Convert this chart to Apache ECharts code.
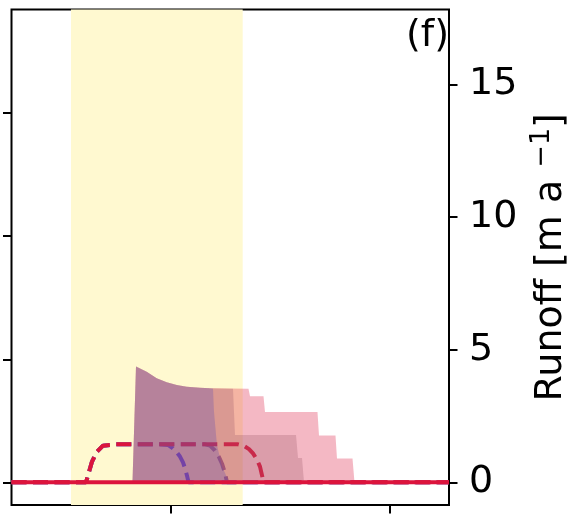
<!DOCTYPE html>
<html>
<head>
<meta charset="utf-8">
<script src="https://cdn.jsdelivr.net/npm/echarts@6/dist/echarts.min.js"></script>
<style>
html,body{margin:0;padding:0;background:#fff;}
#chart{width:573px;height:514px;}
</style>
</head>
<body>
<div id="chart"></div>
<script>
// ---- Axis settings (data units) ----
const xRange = [27.17, 226.94];
const xTicks = [100, 200];
const runoffRange = [-0.856, 17.82];
const runoffTicks = [0, 5, 10, 15];
const leftRange = [-0.181, 3.837];
const leftTicks = [0, 1, 2, 3];

// ---- Shaded period ----
const bandX = [54.34, 132.74];

// ---- Dashed curves ----
const dashCrimsonX = [27.17, 61.19, 63.93, 66.21, 68.95, 74.43, 130.59, 133.33, 135.62, 137.44, 139.27, 140.64, 142.01, 142.47, 226.94];
const dashCrimsonY = [0, 0, 0.78, 1.15, 1.38, 1.43, 1.43, 1.37, 1.25, 1.09, 0.85, 0.59, 0.10, 0, 0];

const dashBlueX = [27.17, 61.19, 63.93, 66.21, 68.95, 74.43, 94.98, 98.63, 100.91, 102.74, 104.11, 105.48, 106.39, 107.31, 107.99, 226.94];
const dashBlueY = [0, 0, 0.78, 1.15, 1.38, 1.43, 1.43, 1.41, 1.28, 1.12, 0.97, 0.75, 0.53, 0.25, 0, 0];

const dashMauveX = [27.17, 61.19, 63.93, 66.21, 68.95, 74.43, 115.53, 117.81, 120.09, 121.92, 123.29, 124.66, 125.57, 226.94];
const dashMauveY = [0, 0, 0.78, 1.15, 1.38, 1.43, 1.43, 1.38, 1.20, 0.95, 0.70, 0.35, 0, 0];

// ---- Filled runoff areas ----
const fillBlueX = [82.42, 84.02, 88.90, 93.47, 98.04, 102.60, 107.17, 113.24, 117.81, 119.18, 119.63, 121.00, 123.29, 126.03, 126.94];
const fillBlueY = [0, 4.36, 4.17, 3.92, 3.77, 3.67, 3.60, 3.56, 3.54, 3.53, 2.66, 1.40, 0.60, 0.10, 0];

const fillMauveX = [82.42, 84.02, 88.90, 93.47, 98.04, 102.60, 107.17, 113.24, 117.81, 128.31, 129.22, 157.08, 157.99, 159.82, 160.73];
const fillMauveY = [0, 4.36, 4.17, 3.92, 3.77, 3.67, 3.60, 3.56, 3.54, 3.53, 1.78, 1.78, 0.92, 0.92, 0];

const fillCrimsonX = [82.42, 84.02, 88.90, 93.47, 98.04, 102.60, 107.17, 113.24, 117.81, 135.39, 136.07, 142.24, 142.92, 166.89, 167.58, 175.11, 175.80, 182.88, 183.79];
const fillCrimsonY = [0, 4.36, 4.17, 3.92, 3.77, 3.67, 3.60, 3.56, 3.54, 3.53, 3.24, 3.24, 2.65, 2.65, 1.76, 1.76, 0.90, 0.90, 0];

// ---- Solid line ----
const solidX = [27.17, 226.94];
const solidY = [0, 0];

const zip = (xs, ys) => xs.map((x, i) => [x, ys[i]]);
const FONT = 'DejaVu Sans';

const chart = echarts.init(document.getElementById('chart'), null, {renderer: 'canvas'});

function dashed(xs, ys, color) {
  return {
    type: 'line', data: zip(xs, ys), yAxisIndex: 0, showSymbol: false, symbol: 'none',
    lineStyle: {color: color, width: 4, type: [15, 6.5]}, z: 2, silent: true, animation: false
  };
}
function filled(xs, ys, color) {
  return {
    type: 'line', data: zip(xs, ys), yAxisIndex: 0, showSymbol: false, symbol: 'none',
    lineStyle: {width: 0, opacity: 0},
    areaStyle: {color: color, opacity: 0.3, origin: 0},
    z: 3, silent: true, animation: false
  };
}

const option = {
  animation: false,
  grid: {left: 11.5, right: 124, top: 9.5, bottom: 9, show: true, borderColor: '#000', borderWidth: 2,
         backgroundColor: 'transparent', containLabel: false, outerBoundsMode: 'none'},
  xAxis: {
    type: 'value', min: xRange[0], max: xRange[1], position: 'bottom',
    axisLine: {show: false, onZero: false},
    axisTick: {show: true, customValues: xTicks, length: 8.5, inside: false, lineStyle: {color: '#000', width: 2}},
    axisLabel: {show: false, customValues: xTicks},
    splitLine: {show: false}
  },
  yAxis: [
    {
      type: 'value', position: 'right', min: runoffRange[0], max: runoffRange[1],
      axisLine: {show: false, onZero: false},
      axisTick: {show: true, customValues: runoffTicks, length: 8.5, lineStyle: {color: '#000', width: 2}},
      axisLabel: {show: true, customValues: runoffTicks, fontSize: 38, color: '#000', fontFamily: FONT, margin: 20},
      splitLine: {show: false},
      name: '{a|Runoff [m a }{s|−1}{a|]}',
      nameLocation: 'middle', nameRotate: 90, nameGap: 75,
      nameTextStyle: {
        fontFamily: FONT, fontSize: 38, color: '#000',
        rich: {
          a: {fontFamily: FONT, fontSize: 38, lineHeight: 46, color: '#000'},
          s: {fontFamily: FONT, fontSize: 27, lineHeight: 27, verticalAlign: 'top', color: '#000'}
        }
      }
    },
    {
      type: 'value', position: 'left', min: leftRange[0], max: leftRange[1],
      axisLine: {show: false, onZero: false},
      axisTick: {show: true, customValues: leftTicks, length: 8.5, lineStyle: {color: '#000', width: 2}},
      axisLabel: {show: false, customValues: leftTicks},
      splitLine: {show: false}
    }
  ],
  graphic: [{
    type: 'text', z: 100,
    style: {text: '(f)', x: 449, y: 36, align: 'right', verticalAlign: 'middle', font: '38px "DejaVu Sans"', fill: '#000'}
  }],
  series: [
    {
      type: 'line', data: [], yAxisIndex: 0, z: 1, silent: true,
      markArea: {silent: true, itemStyle: {color: '#fff9d0'}, data: [[{xAxis: bandX[0]}, {xAxis: bandX[1]}]]}
    },
    dashed(dashBlueX, dashBlueY, '#4040f0'),
    dashed(dashMauveX, dashMauveY, '#8e6c96'),
    dashed(dashCrimsonX, dashCrimsonY, '#dc143c'),
    filled(fillCrimsonX, fillCrimsonY, '#dc143c'),
    filled(fillMauveX, fillMauveY, '#a05d6d'),
    filled(fillBlueX, fillBlueY, '#6351ae'),
    {
      type: 'line', data: zip(solidX, solidY), yAxisIndex: 0, showSymbol: false, symbol: 'none',
      lineStyle: {color: '#dc143c', width: 4}, z: 10, silent: true
    }
  ]
};
chart.setOption(option);
</script>
</body>
</html>
